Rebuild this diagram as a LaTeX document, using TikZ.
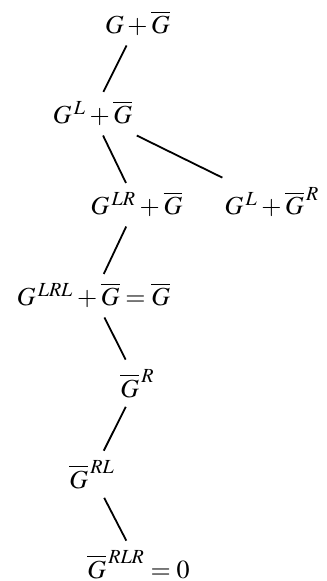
\documentclass[tikz,border=0pt]{standalone}
\usepackage{mathptmx}
\usepackage{tikz}
\DeclareMathSizes{13}{13}{10}{7.5}

\newcommand{\up}[1]{^{\,#1}}

\begin{document}
\begin{tikzpicture}[
  x=0.5pt, y=-0.5pt,
  gamepos/.style={inner sep=4.5pt, anchor=base, font=\fontsize{13}{15}\selectfont},
  edge/.style={line width=0.9pt, black}
]
  \useasboundingbox (0,0) rectangle (326,581);

  % game positions, one row per move
  \node[gamepos] (g) at (137.5,34) {$G+\overline{G}$};
  \node[gamepos] (gl) at (92.5,124) {$G\up{L}+\overline{G}$};
  \node[gamepos] (glr) at (136.5,215) {$G\up{LR}+\overline{G}$};
  \node[gamepos] (glgr) at (272,215) {$G\up{L}+\overline{G}\up{R}$};
  \node[gamepos] (glrl) at (93.5,306) {$G\up{LRL}+\overline{G}=\overline{G}$};
  \node[gamepos] (gr) at (137.5,397) {$\overline{G}\up{R}$};
  \node[gamepos] (grl) at (92,488) {$\overline{G}\up{RL}$};
  \node[gamepos] (grlr) at (138.5,578) {$\overline{G}\up{RLR}=0$};

  % moves
  \draw[edge] (g) -- (gl);
  \draw[edge] (gl) -- (glr);
  \draw[edge] (gl) -- (glgr);
  \draw[edge] (glr) -- (glrl);
  \draw[edge] (glrl) -- (gr);
  \draw[edge] (gr) -- (grl);
  \draw[edge] (grl) -- (grlr);

\end{tikzpicture}
\end{document}
